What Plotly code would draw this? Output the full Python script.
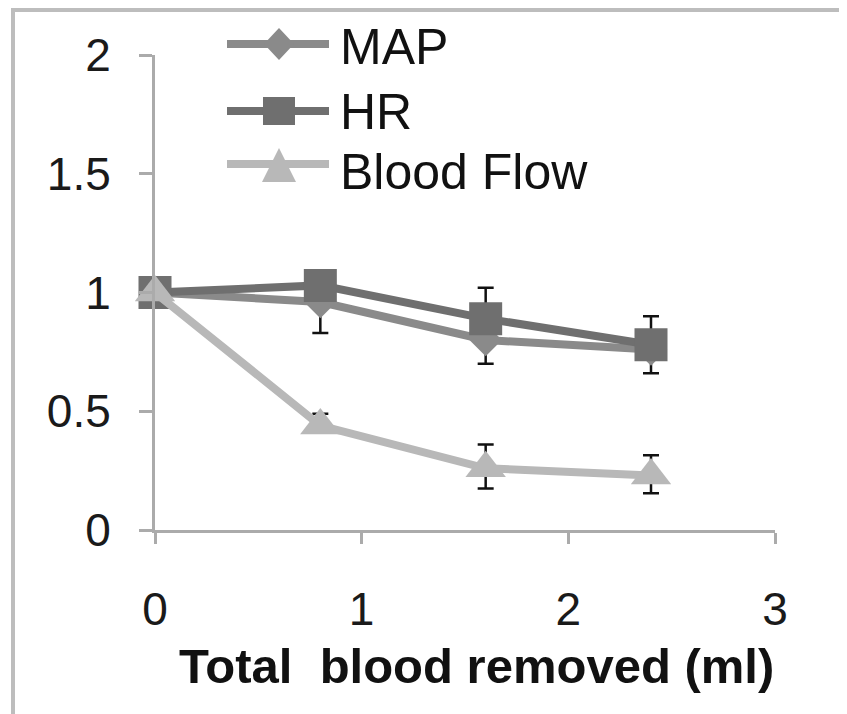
import plotly.graph_objects as go

# ---- data ----
blood_removed = [0, 0.8, 1.6, 2.4]
map_vals = [1.0, 0.96, 0.80, 0.76]
map_err_minus = [0, 0.13, 0.10, 0.10]
hr_vals = [1.0, 1.03, 0.89, 0.78]
hr_err_plus = [0, 0.02, 0.13, 0.12]
bf_vals = [1.0, 0.44, 0.26, 0.23]
bf_err_plus = [0, 0.05, 0.10, 0.085]
bf_err_minus = [0, 0.03, 0.085, 0.075]
series_names = ["MAP", "HR", "Blood Flow"]
x_ticks = [0, 1, 2, 3]
y_ticks = [0, 0.5, 1, 1.5, 2]

# ---- styles ----
W, H = 847, 714
OFF = 8  # page body margin
ML, MR, MT, MB = 147, 80, 47, 192
PW, PH = W - ML - MR, H - MT - MB
C_MAP, C_HR, C_BF = "#8a8a8a", "#6f6f6f", "#b8b8b8"
AXIS_C = "#ababab"
FONT = "Liberation Sans, Arial, sans-serif"
LW = 8


def px(x):
    return (x - OFF - ML) / PW


def py(y):
    return (H - MB - (y - OFF)) / PH


fig = go.Figure()
fig.add_trace(go.Scatter(
    x=blood_removed, y=map_vals, name=series_names[0], mode="lines+markers",
    line=dict(color=C_MAP, width=LW),
    marker=dict(symbol="diamond", size=25, color=C_MAP),
    error_y=dict(type="data", symmetric=False, array=[0] * 4, arrayminus=map_err_minus,
                 color="#111111", thickness=2.5, width=8),
    showlegend=False, cliponaxis=False))
fig.add_trace(go.Scatter(
    x=blood_removed, y=hr_vals, name=series_names[1], mode="lines+markers",
    line=dict(color=C_HR, width=LW),
    marker=dict(symbol="square", size=33, color=C_HR),
    error_y=dict(type="data", symmetric=False, array=hr_err_plus, arrayminus=[0] * 4,
                 color="#111111", thickness=2.5, width=8),
    showlegend=False, cliponaxis=False))
fig.add_trace(go.Scatter(
    x=blood_removed, y=bf_vals, name=series_names[2], mode="lines+markers",
    line=dict(color=C_BF, width=LW),
    marker=dict(symbol="triangle-up", size=35, color=C_BF),
    error_y=dict(type="data", symmetric=False, array=bf_err_plus, arrayminus=bf_err_minus,
                 color="#111111", thickness=2.5, width=8),
    showlegend=False, cliponaxis=False))

shapes = []
# outer frame
shapes.append(dict(type="rect", xref="paper", yref="paper",
                   x0=px(13), y0=py(H + 60), x1=px(W + 60), y1=py(10),
                   line=dict(color="#bdbdbd", width=4), fillcolor="rgba(0,0,0,0)", layer="below"))

# custom legend
leg_rows = [(44, C_MAP, "diamond", 45), (111, C_HR, "square", 110), (164, C_BF, "triangle", 170)]
annotations = []
for (ly, col, sym, ty), name in zip(leg_rows, series_names):
    shapes.append(dict(type="line", xref="paper", yref="paper",
                       x0=px(227), x1=px(329), y0=py(ly), y1=py(ly),
                       line=dict(color=col, width=LW)))
    cx = 279
    if sym == "diamond":
        pts = [(cx, ly - 16), (cx + 15, ly), (cx, ly + 16), (cx - 15, ly)]
    elif sym == "square":
        pts = [(cx - 16, ly - 14), (cx + 16, ly - 14), (cx + 16, ly + 14), (cx - 16, ly + 14)]
    else:
        pts = [(cx, ly - 16), (cx + 17, ly + 18), (cx - 17, ly + 18)]
    path = "M " + " L ".join(f"{px(a):.5f},{py(b):.5f}" for a, b in pts) + " Z"
    shapes.append(dict(type="path", xref="paper", yref="paper", path=path,
                       fillcolor=col, line=dict(color=col, width=0)))
    annotations.append(dict(xref="paper", yref="paper", x=px(338), y=py(ty + 2),
                            xanchor="left", yanchor="middle", showarrow=False, text=name,
                            font=dict(family=FONT, size=50, color="#111111")))

annotations.append(dict(xref="paper", yref="paper", x=px(476), y=py(666),
                        xanchor="center", yanchor="middle", showarrow=False,
                        text="<b>Total  blood removed (ml)</b>",
                        font=dict(family=FONT, size=49, color="#111111")))

fig.update_layout(
    width=W, height=H, autosize=False,
    margin=dict(l=ML, r=MR, t=MT, b=MB),
    paper_bgcolor="white", plot_bgcolor="white",
    font=dict(family=FONT, color="#1a1a1a"),
    shapes=shapes, annotations=annotations,
    xaxis=dict(range=[0, 3], tickvals=x_ticks, ticktext=[str(v) for v in x_ticks],
               showgrid=False, zeroline=False, showline=True, linecolor=AXIS_C, linewidth=3,
               ticks="outside", ticklen=11, tickwidth=2.5, tickcolor=AXIS_C,
               tickfont=dict(family=FONT, size=46, color="#1a1a1a"), ticklabelstandoff=26),
    yaxis=dict(range=[0, 2], tickvals=y_ticks, ticktext=[f"{v:g}" for v in y_ticks],
               showgrid=False, zeroline=False, showline=True, linecolor=AXIS_C, linewidth=3,
               ticks="outside", ticklen=13, tickwidth=2.5, tickcolor=AXIS_C,
               tickfont=dict(family=FONT, size=46, color="#1a1a1a"), ticklabelstandoff=19),
)

fig.write_html("out.html")
